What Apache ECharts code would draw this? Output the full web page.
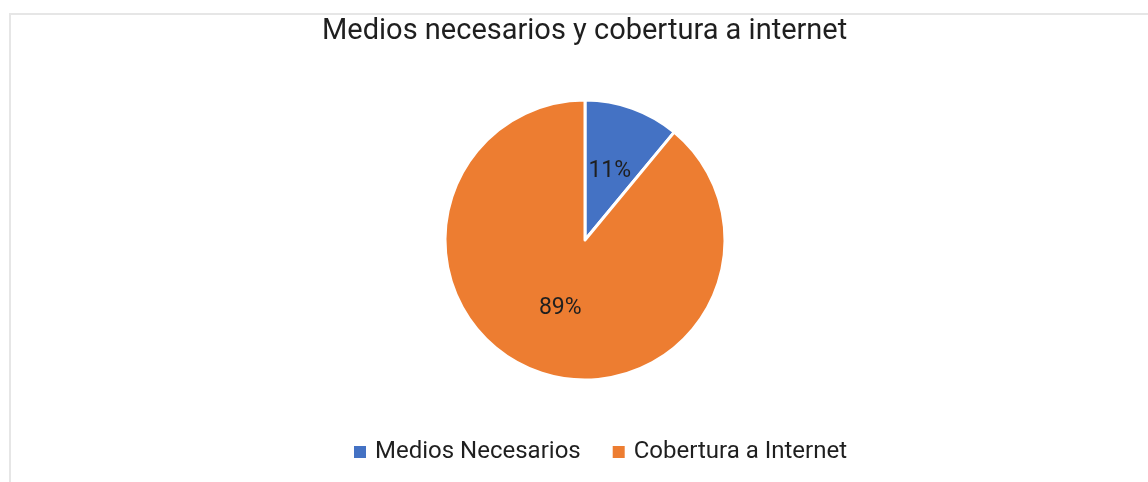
<!DOCTYPE html>
<html lang="en">
  <head>
    <meta charset="UTF-8" />
    <title>Medios necesarios y cobertura a internet</title>
    <style>
      html,
      body {
        margin: 0;
        padding: 0;
        background: #fff;
      }
      #chart {
        width: 1148px;
        height: 482px;
      }
    </style>
  </head>
  <body>
    <div id="chart"></div>
    <script src="https://cdn.jsdelivr.net/npm/echarts@6/dist/echarts.min.js"></script>
    <script>
      const categories = ["Medios Necesarios", "Cobertura a Internet"];
      const values = [11, 89];
      const colors = ["#4472c4", "#ed7d31"];

      const myChart = echarts.init(document.getElementById("chart"));
      const option = {
        color: colors,
        title: {
          text: "Medios necesarios y cobertura a internet",
          left: 317,
          top: 12,
          textStyle: {
            fontFamily: "Roboto",
            fontSize: 29,
            fontWeight: "normal",
            color: "#1f1f1f",
          },
        },
        legend: {
          bottom: 13,
          left: 347,
          itemWidth: 14,
          itemHeight: 14,
          itemGap: 30,
          icon: "rect",
          textStyle: {
            fontFamily: "Roboto",
            fontSize: 24,
            color: "#1f1f1f",
            padding: [0, 0, 0, 3],
          },
        },
        graphic: [
          {
            type: "rect",
            shape: { x: 10, y: 14, width: 1300, height: 600 },
            style: { fill: "none", stroke: "#e6e6e6", lineWidth: 2 },
            silent: true,
          },
        ],
        series: [
          {
            type: "pie",
            center: [585, 240],
            radius: 140,
            startAngle: 90,
            clockwise: true,
            animation: false,
            itemStyle: { borderColor: "#fff", borderWidth: 3 },
            label: {
              position: "inside",
              formatter: "{d}%",
              fontFamily: "Roboto",
              fontSize: 23,
              color: "#1f1f1f",
            },
            labelLine: { show: false },
            data: categories.map((name, i) => ({ name: name, value: values[i] })),
          },
        ],
      };
      myChart.setOption(option);
    </script>
  </body>
</html>
